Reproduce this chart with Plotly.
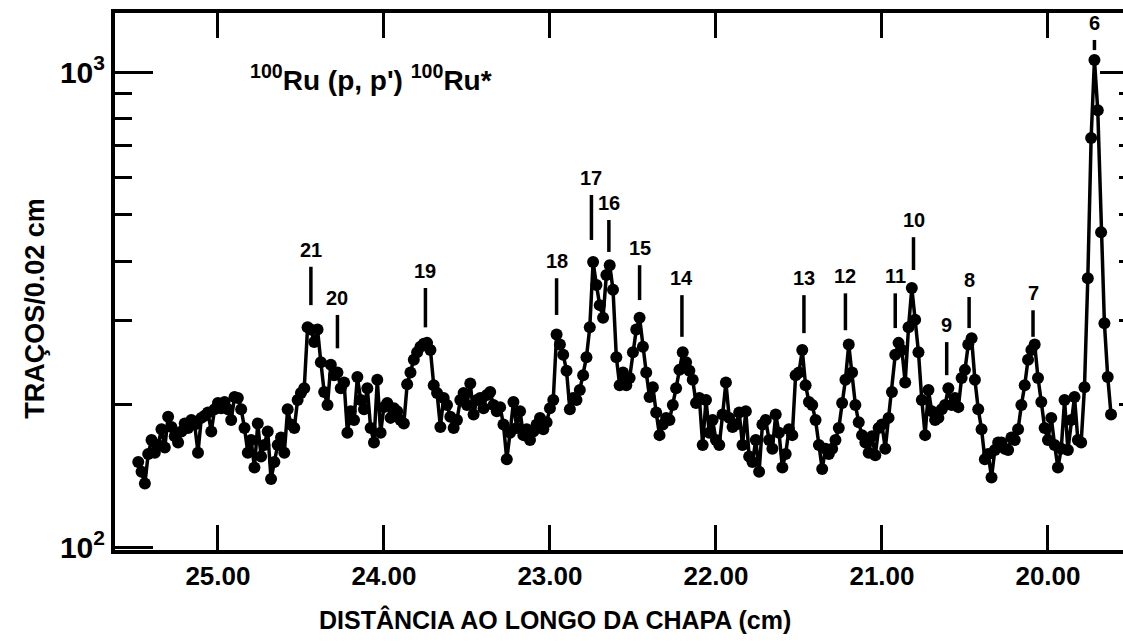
import numpy as np
import plotly.graph_objects as go

# Scan of the plate: one reading every 0.02 cm, starting at 25.48 cm
start_cm = 25.48
step_cm = 0.02

tracks = [
    151, 144, 136, 157, 168, 158, 164, 177, 162, 188,
    179, 171, 166, 175, 182, 178, 185, 181, 158, 187,
    189, 192, 175, 195, 201, 196, 202, 195, 185, 207,
    206, 195, 178, 158, 168, 147, 182, 155, 164, 175,
    139, 151, 164, 170, 158, 195, 181, 178, 204, 211,
    216, 290, 287, 270, 287, 245, 212, 199, 242, 230,
    233, 216, 222, 174, 193, 185, 228, 204, 195, 216,
    178, 166, 225, 174, 197, 201, 187, 196, 193, 185,
    182, 220, 233, 248, 257, 264, 268, 269, 260, 219,
    211, 179, 206, 199, 188, 178, 185, 204, 211, 199,
    221, 190, 204, 206, 196, 209, 212, 199, 193, 197,
    181, 153, 174, 202, 178, 193, 172, 177, 168, 175,
    181, 187, 177, 183, 196, 204, 280, 267, 254, 235,
    195, 206, 204, 214, 230, 251, 290, 398, 356, 323,
    304, 374, 392, 348, 251, 219, 233, 219, 227, 257,
    287, 304, 264, 233, 207, 217, 192, 172, 181, 187,
    185, 199, 216, 236, 257, 245, 235, 225, 201, 206,
    164, 204, 174, 185, 168, 164, 190, 222, 187, 179,
    181, 192, 164, 193, 155, 151, 168, 144, 181, 185,
    168, 161, 190, 174, 147, 157, 177, 172, 230, 233,
    260, 219, 202, 199, 185, 164, 146, 161, 157, 161,
    168, 178, 201, 225, 267, 233, 199, 183, 172, 166,
    158, 171, 156, 178, 181, 161, 187, 212, 254, 269,
    260, 222, 290, 351, 301, 257, 204, 172, 214, 193,
    185, 187, 195, 199, 216, 199, 206, 197, 227, 236,
    267, 275, 225, 195, 177, 153, 157, 140, 160, 166,
    166, 161, 160, 170, 168, 177, 199, 219, 248, 260,
    267, 227, 202, 178, 168, 187, 164, 147, 161, 204,
    160, 185, 207, 168, 166, 217, 368, 726, 1060, 831,
    460, 296, 228, 190,
]
positions = np.round(start_cm - step_cm * np.arange(len(tracks)), 2)

# Identified levels: label, plate position (cm), marker bar extent (tracks)
peak_ids = ["21", "20", "19", "18", "17", "16", "15", "14",
            "13", "12", "11", "10", "9", "8", "7", "6"]
peak_x = [24.44, 24.28, 23.75, 22.96, 22.75, 22.645, 22.46, 22.205,
          21.47, 21.22, 20.92, 20.81, 20.61, 20.475, 20.09, 19.72]
bar_lo = [323, 262, 290, 308, 443, 418, 331, 277,
          282, 286, 289, 383, 230, 289, 277, 1112]
bar_hi = [389, 308, 351, 368, 551, 488, 392, 339,
          339, 342, 342, 449, 270, 336, 315, 1168]

x_ticks = [25, 24, 23, 22, 21, 20]
x_ticktext = ["25.00", "24.00", "23.00", "22.00", "21.00", "20.00"]
y_major = [100, 1000]
y_ticktext = ["10<sup>2</sup>", "10<sup>3</sup>"]
y_minor = [200, 300, 400, 500, 600, 700, 800, 900]

FONT = "Liberation Sans, Arial, sans-serif"
INK = "#000000"
x_range = [25.62, 19.548]
y_range = [1.9937, 3.1242]

fig = go.Figure()
fig.add_trace(go.Scatter(
    x=positions, y=tracks, mode="lines+markers",
    line=dict(color=INK, width=3.5),
    marker=dict(color=INK, size=12),
    showlegend=False, hoverinfo="x+y",
))
# carries the right-hand tick marks
fig.add_trace(go.Scatter(x=[], y=[], yaxis="y2", showlegend=False))

shapes = []
annotations = []
for pid, px, lo, hi in zip(peak_ids, peak_x, bar_lo, bar_hi):
    # shape coordinates on a log axis are given in data units
    shapes.append(dict(type="line", xref="x", yref="y",
                       x0=px, x1=px, y0=lo, y1=hi,
                       line=dict(color=INK, width=3.5)))
    # annotation coordinates on a log axis are given as log10
    annotations.append(dict(x=px, y=np.log10(hi), xref="x", yref="y",
                            text=f"<b>{pid}</b>", showarrow=False,
                            yanchor="bottom", yshift=4,
                            font=dict(family=FONT, size=20, color=INK)))

annotations.append(dict(
    x=0.132, y=0.879, xref="paper", yref="paper", xanchor="left", yanchor="middle",
    text="<b><sup>100</sup>Ru (p, p') <sup>100</sup>Ru*</b>", showarrow=False,
    font=dict(family=FONT, size=28, color=INK)))
annotations.append(dict(
    x=0.4365, y=-0.130, xref="paper", yref="paper", xanchor="center", yanchor="middle",
    text="<b>DISTÂNCIA AO LONGO DA CHAPA (cm)</b>", showarrow=False,
    font=dict(family=FONT, size=25, color=INK)))
annotations.append(dict(
    x=-0.079, y=0.45, xref="paper", yref="paper", xanchor="center", yanchor="middle",
    text="<b>TRAÇOS/0.02 cm</b>", showarrow=False, textangle=-90,
    font=dict(family=FONT, size=27, color=INK)))

fig.update_layout(
    width=1123, height=643,
    margin=dict(l=115, r=0, t=13, b=93),
    paper_bgcolor="white", plot_bgcolor="white",
    font=dict(family=FONT, color=INK),
    shapes=shapes, annotations=annotations,
    xaxis=dict(
        range=x_range, tickvals=x_ticks, ticktext=[f"<b>{t}</b>" for t in x_ticktext],
        ticks="inside", ticklen=25, tickwidth=3, tickcolor=INK,
        showline=True, linewidth=4, linecolor=INK, mirror="ticks",
        showgrid=False, zeroline=False,
        tickfont=dict(family=FONT, size=26, color=INK),
    ),
    yaxis=dict(
        type="log", range=y_range, tickvals=y_major,
        ticktext=[f"<b>{t}</b>" for t in y_ticktext],
        ticks="inside", ticklen=38, tickwidth=3, tickcolor=INK,
        minor=dict(ticks="inside", ticklen=17, tickwidth=3, tickcolor=INK,
                   tickvals=y_minor, showgrid=False),
        showline=True, linewidth=4, linecolor=INK, mirror=False,
        showgrid=False, zeroline=False,
        tickfont=dict(family=FONT, size=30, color=INK),
    ),
    yaxis2=dict(
        type="log", range=y_range, overlaying="y", side="right",
        tickvals=[1000], showticklabels=False,
        ticks="inside", ticklen=23, tickwidth=3, tickcolor=INK,
        minor=dict(ticks="inside", ticklen=4, tickwidth=3, tickcolor=INK,
                   tickvals=y_minor, showgrid=False),
        showline=False, showgrid=False, zeroline=False,
    ),
)

fig.write_html("out.html")
